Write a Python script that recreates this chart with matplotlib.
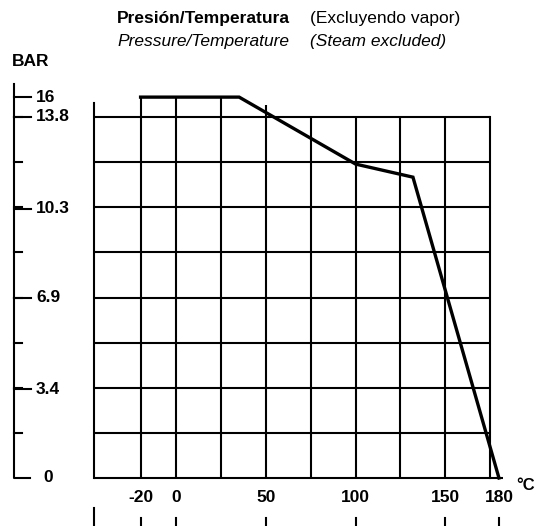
import matplotlib
matplotlib.use("Agg")
import matplotlib.pyplot as plt
import numpy as np

# pressure / temperature curve
temps = [-20, 35, 100, 132, 180]
bars = [16, 16, 12, 11.5, 0]

grid_temps = [-20, 0, 25, 50, 75, 100, 125, 150]
grid_bars = [0, 1.725, 3.45, 5.175, 6.9, 8.625, 10.35, 12.075, 13.8]
y_tick_vals = [0, 3.4, 6.9, 10.3, 13.8, 16]
y_tick_labels = ["0", "3.4", "6.9", "10.3", "13.8", "16"]
x_tick_vals = [-46, -20, 0, 50, 100, 150, 180]
x_tick_labels = ["", "-20", "0", "50", "100", "150", "180"]

t_min, t_max = -46, 175
p_top = 13.8


def fwd(b):
    b = np.asarray(b, dtype=float)
    return np.where(b <= p_top, b, p_top + (b - p_top) * (0.76 / 2.2))


def inv(d):
    d = np.asarray(d, dtype=float)
    return np.where(d <= p_top, d, p_top + (d - p_top) * (2.2 / 0.76))


plt.rcParams['font.family'] = ['Liberation Sans', 'DejaVu Sans']
fs = 12.5

fig = plt.figure(figsize=(5.36, 5.26), dpi=100)
ax = fig.add_axes([94 / 536, 48 / 526, 396 / 536, 361 / 526])
ax.set_yscale('function', functions=(fwd, inv))
ax.set_xlim(t_min, t_max)
ax.set_ylim(0, p_top)
ax.axis('off')

lw = 1.5
# horizontal grid lines
for b in grid_bars:
    right = 182 if b == 0 else t_max
    ax.plot([t_min, right], [b, b], color='black', lw=lw, clip_on=False,
            solid_capstyle='butt')

# vertical grid lines, extended up to the curve where it is above the grid
curve_at = np.interp(grid_temps, temps, bars)
for t, c in zip(grid_temps, curve_at):
    top = max(p_top, c)
    ax.plot([t, t], [0, top], color='black', lw=lw, clip_on=False,
            solid_capstyle='butt')
ax.plot([t_min, t_min], [0, 15.3], color='black', lw=lw, clip_on=False)
ax.plot([t_max, t_max], [0, p_top], color='black', lw=lw, clip_on=False)

# curve
ax.plot(temps, bars, color='black', lw=2.4, clip_on=False,
        solid_joinstyle='miter')

# left BAR scale
ytr = ax.get_yaxis_transform()
x_axis = (14 - 94) / 396
ax.plot([x_axis, x_axis, (30 - 94) / 396], [17.5, 0, 0], color='black',
        lw=lw, transform=ytr, clip_on=False)
for b in grid_bars[1:]:
    ax.plot([x_axis, (22 - 94) / 396], [b, b], color='black', lw=lw,
            transform=ytr, clip_on=False)
for v, lab in zip(y_tick_vals, y_tick_labels):
    if v == 0:
        ax.text((43 - 94) / 396, v, lab, transform=ytr, ha='left', va='center',
                fontsize=fs, fontweight='bold')
        continue
    ax.plot([x_axis, (31 - 94) / 396], [v, v], color='black', lw=lw,
            transform=ytr, clip_on=False)
    ax.text((36 - 94) / 396, v, lab, transform=ytr, ha='left', va='center',
            fontsize=fs, fontweight='bold')

# bottom temperature scale
xtr = ax.get_xaxis_transform()
for v, lab in zip(x_tick_vals, x_tick_labels):
    y0 = (478 - 508) / 361 if v == t_min else (478 - 518) / 361
    ax.plot([v, v], [y0, -0.2], color='black', lw=lw, transform=xtr,
            clip_on=False)
    ax.text(v, (478 - 497) / 361, lab, transform=xtr, ha='center',
            va='center', fontsize=fs, fontweight='bold')
fig.text(516 / 536, 1 - 486 / 526, "°C", ha='left', va='center',
         fontsize=12, fontweight='bold')

# titles
fig.text(12 / 536, 1 - 62 / 526, "BAR", ha='left', va='center',
         fontsize=fs, fontweight='bold')
fig.text(117 / 536, 1 - 19 / 526, "Presión/Temperatura", ha='left',
         va='center', fontsize=fs, fontweight='bold')
fig.text(310 / 536, 1 - 19 / 526, "(Excluyendo vapor)", ha='left',
         va='center', fontsize=fs)
fig.text(117 / 536, 1 - 41 / 526, "Pressure/Temperature", ha='left',
         va='center', fontsize=fs, style='italic')
fig.text(310 / 536, 1 - 41 / 526, "(Steam excluded)", ha='left',
         va='center', fontsize=fs, style='italic')

fig.savefig("out.png", dpi=100)
